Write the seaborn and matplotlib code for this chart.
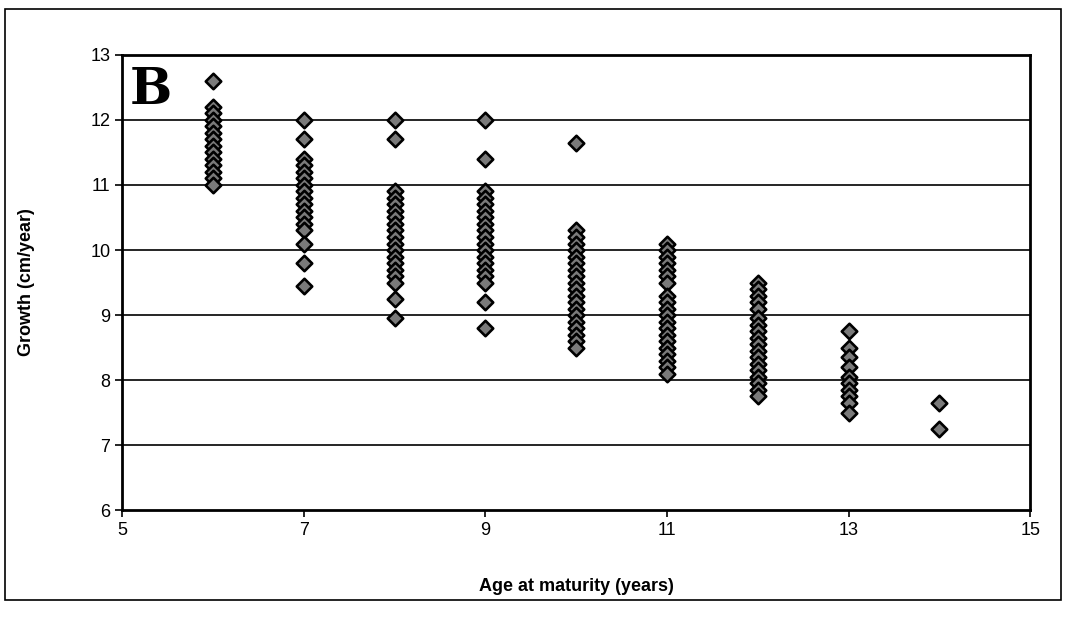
import pandas as pd
import seaborn as sns
import matplotlib.pyplot as plt
from matplotlib.patches import Rectangle

# growth values
growth_6 = [12.6, 12.2, 12.1, 12.0, 11.9, 11.8, 11.7, 11.6, 11.5, 11.4, 11.3, 11.2, 11.1, 11.0]
growth_7 = [12.0, 11.7, 11.4, 11.3, 11.2, 11.1, 11.0, 10.9, 10.8, 10.7, 10.6, 10.5,
            10.4, 10.3, 10.1, 9.8, 9.45]
growth_8 = [12.0, 11.7, 10.9, 10.8, 10.7, 10.6, 10.5, 10.4, 10.3, 10.2, 10.1, 10.0,
            9.9, 9.8, 9.7, 9.6, 9.5, 9.25, 8.95]
growth_9 = [12.0, 11.4, 10.9, 10.8, 10.7, 10.6, 10.5, 10.4, 10.3, 10.2, 10.1, 10.0,
            9.9, 9.8, 9.7, 9.6, 9.5, 9.2, 8.8]
growth_10 = [11.65, 10.3, 10.2, 10.1, 10.0, 9.9, 9.8, 9.7, 9.6, 9.5, 9.4, 9.3, 9.2,
             9.1, 9.0, 8.9, 8.8, 8.7, 8.6, 8.5]
growth_11 = [10.1, 10.0, 9.9, 9.8, 9.7, 9.6, 9.5, 9.3, 9.2, 9.1, 9.0, 8.9, 8.8, 8.7,
             8.6, 8.5, 8.4, 8.3, 8.2, 8.1]
growth_12 = [9.5, 9.4, 9.3, 9.2, 9.1, 8.95, 8.85, 8.75, 8.65, 8.55, 8.45, 8.35, 8.25,
             8.15, 8.05, 7.95, 7.85, 7.75]
growth_13 = [8.75, 8.5, 8.35, 8.2, 8.05, 7.95, 7.85, 7.75, 7.65, 7.5]
growth_14 = [7.65, 7.25]

ages = [6, 7, 8, 9, 10, 11, 12, 13, 14]
columns = [growth_6, growth_7, growth_8, growth_9, growth_10,
           growth_11, growth_12, growth_13, growth_14]

rows = []
for age, vals in zip(ages, columns):
    for v in vals:
        rows.append({"age": age, "growth": v})
df = pd.DataFrame(rows)

sns.set_style("white")
plt.rcParams['font.family'] = ['Liberation Sans', 'DejaVu Sans']
plt.rcParams['text.color'] = 'black'
plt.rcParams['xtick.color'] = 'black'
plt.rcParams['ytick.color'] = 'black'
plt.rcParams['axes.labelcolor'] = 'black'

fig = plt.figure(figsize=(10.66, 6.32), dpi=100)
ax = fig.add_axes([0.1145, 0.193, 0.852, 0.720])

# horizontal gridlines
for yv in range(7, 13):
    ax.axhline(yv, color="black", lw=1.2, zorder=1)

sns.scatterplot(data=df, x="age", y="growth", marker="D", s=62,
                color="#7a7a7a", edgecolor="black", linewidth=1.9,
                zorder=3, ax=ax)

ax.set_xlim(5, 15)
ax.set_ylim(6, 13)
ax.set_xticks([5, 7, 9, 11, 13, 15])
ax.set_yticks(range(6, 14))
ax.tick_params(axis="both", direction="out", length=5, width=1.2,
               labelsize=13, bottom=True, left=True, color="black")
for side in ["left", "bottom", "top", "right"]:
    ax.spines[side].set_color("black")
    ax.spines[side].set_linewidth(2)

ax.set_xlabel("Age at maturity (years)", fontsize=13, fontweight="bold", labelpad=28)
ax.set_ylabel("Growth (cm/year)", fontsize=13, fontweight="bold", labelpad=40)

ax.text(0.008, 0.975, "B", transform=ax.transAxes, fontsize=36, fontweight="bold",
        family="DejaVu Serif", va="top", ha="left")

# outer chart border
fig.patches.append(Rectangle((0.005, 0.05), 0.99, 0.935, transform=fig.transFigure,
                             fill=False, edgecolor="black", lw=1.2))

plt.savefig("out.png", dpi=100)
plt.close()
